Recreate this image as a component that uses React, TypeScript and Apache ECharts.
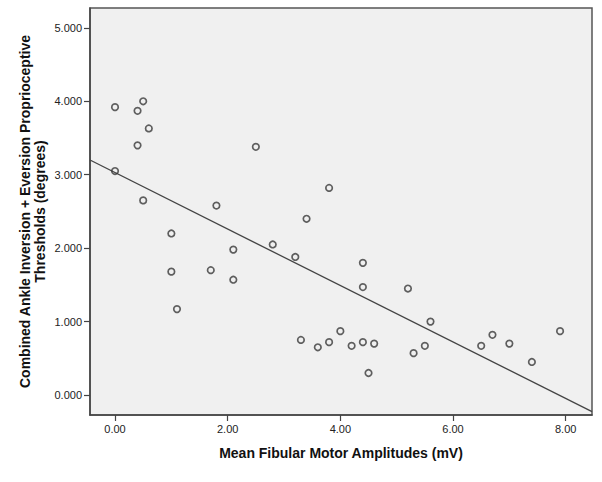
import React, { useEffect, useRef } from "react";
import * as echarts from "echarts";

// Mean Fibular Motor Amplitudes (mV)
const amplitudes = [
  0.0, 0.4, 0.5, 0.6, 0.4, 0.0, 0.5, 2.5, 1.8, 1.0,
  2.1, 2.8, 3.2, 1.0, 1.7, 2.1, 1.1, 3.3, 3.8, 3.4,
  4.4, 4.4, 5.2, 5.6, 4.0, 3.6, 3.8, 4.2, 4.4, 4.6,
  4.5, 5.3, 5.5, 6.5, 6.7, 7.0, 7.4, 7.9,
];
// Combined Ankle Inversion + Eversion Proprioceptive Thresholds (degrees)
const thresholds = [
  3.92, 3.87, 4.0, 3.63, 3.4, 3.05, 2.65, 3.38, 2.58, 2.2,
  1.98, 2.05, 1.88, 1.68, 1.7, 1.57, 1.17, 0.75, 2.82, 2.4,
  1.8, 1.47, 1.45, 1.0, 0.87, 0.65, 0.72, 0.67, 0.72, 0.7,
  0.3, 0.57, 0.67, 0.67, 0.82, 0.7, 0.45, 0.87,
];
// Fit line endpoints (at the axis extents)
const fitX = [-0.444, 8.467];
const fitY = [3.2, -0.227];

const xTicks = [0, 2, 4, 6, 8];
const yTicks = [0, 1, 2, 3, 4, 5];
const xRange = [-0.444, 8.467];
const yRange = [-0.272, 5.27];

const xName = "Mean Fibular Motor Amplitudes (mV)";
const yName = "Combined Ankle Inversion + Eversion Proprioceptive\nThresholds (degrees)";

export default function App() {
  const ref = useRef<HTMLDivElement>(null);
  useEffect(() => {
    if (!ref.current) return;
    const chart = echarts.init(ref.current, null, { renderer: "svg" });
    const points = amplitudes.map((a, i) => [a, thresholds[i]]);
    const fit = fitX.map((x, i) => [x, fitY[i]]);
    const font = "Arial, 'Liberation Sans', sans-serif";
    chart.setOption({
      animation: false,
      backgroundColor: "#ffffff",
      grid: {
        left: 90,
        top: 8,
        right: 10,
        bottom: 67,
        show: true,
        backgroundColor: "#f0f0f0",
        borderColor: "#555555",
        borderWidth: 1.5,
        containLabel: false,
        outerBoundsMode: "none",
      },
      xAxis: {
        type: "value",
        min: xRange[0],
        max: xRange[1],
        name: xName,
        nameLocation: "middle",
        nameGap: 31,
        nameMoveOverlap: false,
        nameTextStyle: { fontFamily: font, fontSize: 14, fontWeight: "bold", color: "#111" },
        splitLine: { show: false },
        axisLine: { show: true, onZero: false, lineStyle: { color: "#444", width: 1.5 } },
        axisTick: { show: true, length: 6, customValues: xTicks, lineStyle: { color: "#444", width: 1.2 } },
        axisLabel: {
          customValues: xTicks,
          margin: 8,
          fontFamily: font,
          fontSize: 11,
          color: "#222",
          formatter: (v: number) => v.toFixed(2),
        },
      },
      yAxis: {
        type: "value",
        min: yRange[0],
        max: yRange[1],
        name: yName,
        nameLocation: "middle",
        nameGap: 43,
        nameMoveOverlap: false,
        nameTextStyle: { fontFamily: font, fontSize: 14, fontWeight: "bold", color: "#111", lineHeight: 15 },
        splitLine: { show: false },
        axisLine: { show: true, onZero: false, lineStyle: { color: "#444", width: 1.5 } },
        axisTick: { show: true, length: 6, customValues: yTicks, lineStyle: { color: "#444", width: 1.2 } },
        axisLabel: {
          customValues: yTicks,
          margin: 8,
          fontFamily: font,
          fontSize: 11,
          color: "#222",
          formatter: (v: number) => v.toFixed(3),
        },
      },
      series: [
        {
          type: "line",
          data: fit,
          symbol: "none",
          silent: true,
          lineStyle: { color: "#444", width: 1.3 },
          z: 2,
        },
        {
          type: "scatter",
          data: points,
          symbol: "circle",
          symbolSize: 6.5,
          itemStyle: { color: "rgba(0,0,0,0)", borderColor: "#3a3a3a", borderWidth: 1.7 },
          z: 3,
        },
      ],
    });
    return () => chart.dispose();
  }, []);
  return (
    <div
      ref={ref}
      style={{ position: "fixed", left: 0, top: 0, width: 602, height: 482 }}
    />
  );
}
